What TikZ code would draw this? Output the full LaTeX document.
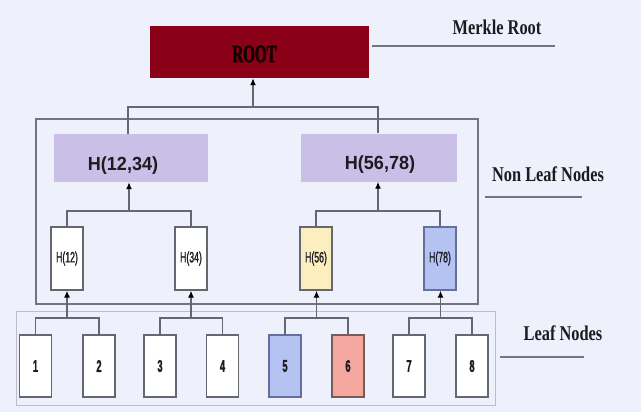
\documentclass[tikz,border=0pt]{standalone}
\usepackage{fontspec}
\usetikzlibrary{arrows.meta}
\newfontfamily\headfont[FakeStretch=0.78]{Liberation Serif}
\newfontfamily\rootfont[FakeStretch=0.6, FakeBold=2]{Liberation Serif}
\newfontfamily\hashfont[FakeStretch=0.95]{Liberation Sans}
\newfontfamily\smallfont[FakeStretch=0.58, FakeBold=1.2]{Liberation Sans}
\newfontfamily\digitfont[FakeStretch=0.55, FakeBold=1]{Liberation Sans}

\definecolor{bg}{RGB}{238,241,252}
\definecolor{rootred}{RGB}{138,0,22}
\definecolor{lav}{RGB}{201,191,231}
\definecolor{paleyellow}{RGB}{252,238,190}
\definecolor{paleblue}{RGB}{181,195,242}
\definecolor{blueedge}{RGB}{100,112,155}
\definecolor{salmon}{RGB}{245,168,160}
\definecolor{salmonedge}{RGB}{120,92,92}
\definecolor{wire}{RGB}{98,103,112}
\definecolor{frame}{RGB}{112,117,127}
\definecolor{lightframe}{RGB}{186,190,200}
\definecolor{ink}{RGB}{28,28,32}

\tikzset{
  leafbox/.style={draw=wire, line width=1.3bp, fill=white, minimum width=32bp,
    minimum height=62bp, inner sep=0pt, font=\digitfont\bfseries\fontsize{17bp}{17bp}\selectfont, text=ink},
  hashbox/.style={draw=wire, line width=1.3bp, fill=white, minimum width=32bp,
    minimum height=63bp, inner sep=0pt, font=\smallfont\fontsize{15bp}{15bp}\selectfont, text=ink},
  pairbox/.style={fill=lav, minimum width=154bp, minimum height=48bp, inner sep=0pt},
  pairtext/.style={font=\hashfont\bfseries\fontsize{19bp}{19bp}\selectfont, text=ink},
  heading/.style={font=\headfont\bfseries\fontsize{21bp}{21bp}\selectfont, text=ink, inner sep=0pt},
  link/.style={draw=wire, line width=1.3bp},
  uparrow/.style={link, -{Latex[length=7bp,width=6bp,color=black]}},
  underline/.style={draw=frame, line width=1.2bp},
}

\begin{document}
\begin{tikzpicture}[x=1bp, y=-1bp]
  % canvas
  \fill[bg] (0,0) rectangle (641,412);
  \useasboundingbox (0,0) rectangle (641,412);

  % group frames
  \draw[draw=lightframe, line width=1bp] (16,311) rectangle (495,405);
  \draw[draw=frame, line width=2bp] (36,119) rectangle (478,304);

  % root
  \node[fill=rootred, minimum width=219bp, minimum height=52bp, inner sep=0pt,
        label={[font=\rootfont\bfseries\fontsize{25bp}{25bp}\selectfont, text={rgb,255:red,18;green,0;blue,0}, xshift=-5bp, yshift=-2bp]center:ROOT}]
        (root) at (259.5,52) {};

  % intermediate hashes
  \node[pairbox, label={[pairtext, xshift=-8bp, yshift=-8bp]center:H(12,34)}] (h1234) at (131,158) {};
  \node[pairbox, minimum width=156bp, label={[pairtext, xshift=1bp, yshift=-7bp]center:H(56,78)}] (h5678) at (379,157.5) {};

  \node[hashbox] (h12) at (67,258.5) {H(12)};
  \node[hashbox] (h34) at (191,258.5) {H(34)};
  \node[hashbox, fill=paleyellow] (h56) at (316,258.5) {H(56)};
  \node[hashbox, fill=paleblue, draw=blueedge] (h78) at (440,258.5) {H(78)};

  % leaves
  \node[leafbox] (l1) at (35.5,366) {1};
  \node[leafbox] (l2) at (99,366) {2};
  \node[leafbox] (l3) at (160,366) {3};
  \node[leafbox] (l4) at (222.5,366) {4};
  \node[leafbox, fill=paleblue, draw=blueedge] (l5) at (285,366) {5};
  \node[leafbox, fill=salmon, draw=salmonedge] (l6) at (348,366) {6};
  \node[leafbox] (l7) at (409,366) {7};
  \node[leafbox] (l8) at (472,366) {8};

  % junction points
  \coordinate (j12) at (67,318);  \coordinate (j34) at (191,318);
  \coordinate (j56) at (316.5,318); \coordinate (j78) at (440.5,318);
  \coordinate (jA) at (129,211); \coordinate (jB) at (378,211);
  \coordinate (jR) at (253,107);

  % pair connectors
  \foreach \a/\b/\p/\j in {l1/l2/h12/j12, l3/l4/h34/j34, l5/l6/h56/j56, l7/l8/h78/j78,
                           h12/h34/h1234/jA, h56/h78/h5678/jB}{
    \draw[link] (\a.north) -- (\a.north |- \j) -- (\b.north |- \j) -- (\b.north);
    \draw[uparrow] (\j) -- (\p.south -| \j);
  }
  \draw[link] (h1234.north -| 128,0) -- (128,107) -- (378,107) -- (h5678.north -| 378,0);
  \draw[uparrow] (jR) -- (root.south -| jR);

  % side headings
  \node[heading] (tRoot) at (497,27) {Merkle Root};
  \node[heading] (tNon) at (548,174) {Non Leaf Nodes};
  \node[heading] (tLeaf) at (563,333) {Leaf Nodes};
  \draw[underline] (372,46) -- (555,46);
  \draw[underline] (485,197) -- (582,197);
  \draw[underline] (500,357) -- (584,357);
\end{tikzpicture}
\end{document}
